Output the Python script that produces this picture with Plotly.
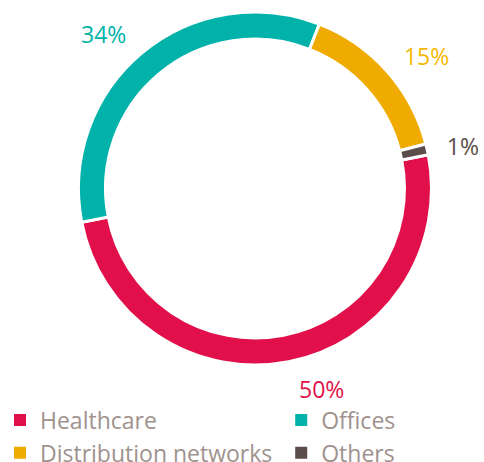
import plotly.graph_objects as go

# Building split by sector
sectors = ['Healthcare', 'Offices', 'Distribution networks', 'Others']
shares = [50, 34, 15, 1]
colors = ['#E1104A', '#00B2A9', '#F0AB00', '#5B4D4A']
label_colors = ['#E1104A', '#00B2A9', '#F5B800', '#5B4D4A']

W, H = 484, 462
cx, cy, r = 255, 188.5, 176.5   # ring centre / radius in px
r_lab = 188.5                    # radius used to place the % labels

def dom(rad):
    return dict(x=[(cx - rad) / W, (cx + rad) / W],
                y=[max(0, 1 - (cy + rad) / H), min(1, 1 - (cy - rad) / H)])

fig = go.Figure()

# the ring itself
fig.add_trace(go.Pie(
    labels=sectors, values=shares, sort=False,
    direction='clockwise', rotation=79,
    hole=0.847, domain=dom(r),
    marker=dict(colors=colors, line=dict(color='white', width=3)),
    textinfo='none', hoverinfo='label+percent', showlegend=False,
))

# invisible copy, only there to put the % labels a bit further out
fig.add_trace(go.Pie(
    labels=sectors, values=shares, sort=False,
    direction='clockwise', rotation=79,
    hole=0.95, domain=dom(r_lab),
    marker=dict(colors=['rgba(0,0,0,0)'] * 4, line=dict(width=0)),
    textinfo='percent', textposition='outside',
    outsidetextfont=dict(family='Open Sans', size=23, color=label_colors),
    showlegend=False, hoverinfo='skip',
))

# legend: two columns -> two legends, fed by tiny pies (nothing visible drawn)
tiny = dict(x=[0.5, 0.5001], y=[0.5, 0.5001])
for idx, lg in [([0, 2], 'legend'), ([1, 3], 'legend2')]:
    fig.add_trace(go.Pie(
        labels=[sectors[i] for i in idx], values=[shares[i] for i in idx],
        sort=False, domain=tiny, textinfo='none', hoverinfo='skip',
        marker=dict(colors=[colors[i] for i in idx], line=dict(width=0)),
        legend=lg,
    ))

leg_style = dict(orientation='v', yanchor='bottom', y=-0.027, xanchor='left',
                 font=dict(family='Open Sans', size=23, color='#A0928D'),
                 bgcolor='rgba(0,0,0,0)', tracegroupgap=0)

fig.update_layout(
    width=W, height=H,
    margin=dict(l=0, r=0, t=0, b=0, autoexpand=False),
    paper_bgcolor='white', plot_bgcolor='white',
    font=dict(family='Open Sans'),
    legend=dict(x=0.0, **leg_style),
    legend2=dict(x=0.581, **leg_style),
)

# drop the browser's default 8px body margin so the chart sits at 0,0
fig.write_html("out.html", config={'displayModeBar': False},
               post_script="document.body.style.margin='0px';")
